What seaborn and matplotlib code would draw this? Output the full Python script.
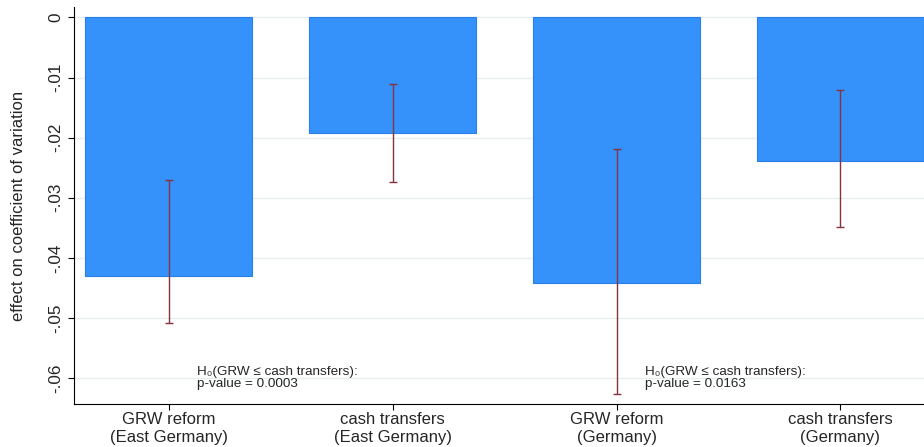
import numpy as np
import pandas as pd
import matplotlib
matplotlib.use('Agg')
import matplotlib.pyplot as plt
import seaborn as sns

categories = ['GRW reform\n(East Germany)', 'cash transfers\n(East Germany)',
              'GRW reform\n(Germany)', 'cash transfers\n(Germany)']
effects = [-0.0430, -0.0193, -0.0442, -0.0238]
ci_upper = [-0.0271, -0.0110, -0.0219, -0.0120]
ci_lower = [-0.0509, -0.0273, -0.0627, -0.0349]
yticks = [0, -0.01, -0.02, -0.03, -0.04, -0.05, -0.06]
ytick_labels = ['0', '-.01', '-.02', '-.03', '-.04', '-.05', '-.06']
notes = ['H\u2080(GRW \u2264 cash transfers):\np-value = 0.0003',
         'H\u2080(GRW \u2264 cash transfers):\np-value = 0.0163']

sns.set_style('white')
plt.rcParams['font.family'] = ['Liberation Sans', 'DejaVu Sans']

df = pd.DataFrame({'cat': categories, 'effect': effects})

fig = plt.figure(figsize=(9.24, 4.47), dpi=100)
ax = fig.add_axes([0.080, 0.096, 0.920, 0.888])

for y in yticks:
    ax.axhline(y, color='#e8eeee', lw=1.0, zorder=0)

sns.barplot(data=df, x='cat', y='effect', color='#3592fb', width=0.746,
            saturation=1, edgecolor='#2a7fe6', linewidth=0.8, ax=ax, zorder=2)

x = np.arange(len(categories))
eff = np.array(effects)
yerr = [eff - np.array(ci_lower), np.array(ci_upper) - eff]
ax.errorbar(x, eff, yerr=yerr, fmt='none', ecolor='#86323f', elinewidth=1.0,
            capsize=3, capthick=1.0, zorder=3)

ax.text(0.125, -0.0580, notes[0], fontsize=9.7, va='top', ha='left', linespacing=0.98, zorder=4)
ax.text(2.125, -0.0580, notes[1], fontsize=9.7, va='top', ha='left', linespacing=0.98, zorder=4)

ax.set_xlim(-0.424, 3.373)
ax.set_ylim(-0.0643, 0.0017)
ax.set_yticks(yticks)
ax.set_yticklabels(ytick_labels, rotation=90, va='center', fontsize=12.3)
ax.set_xticks(x)
ax.set_xticklabels(categories, fontsize=12, linespacing=1.2)
ax.tick_params(axis='both', length=4, width=0.8, color='black', direction='out', left=True, bottom=True)
ax.tick_params(axis='x', pad=2)
ax.set_xlabel('')
ax.set_ylabel('effect on coefficient of variation', fontsize=12, labelpad=16)

for s in ['top', 'right']:
    ax.spines[s].set_visible(False)
for s in ['left', 'bottom']:
    ax.spines[s].set_color('black')
    ax.spines[s].set_linewidth(0.8)

fig.savefig('out.png', dpi=100)
